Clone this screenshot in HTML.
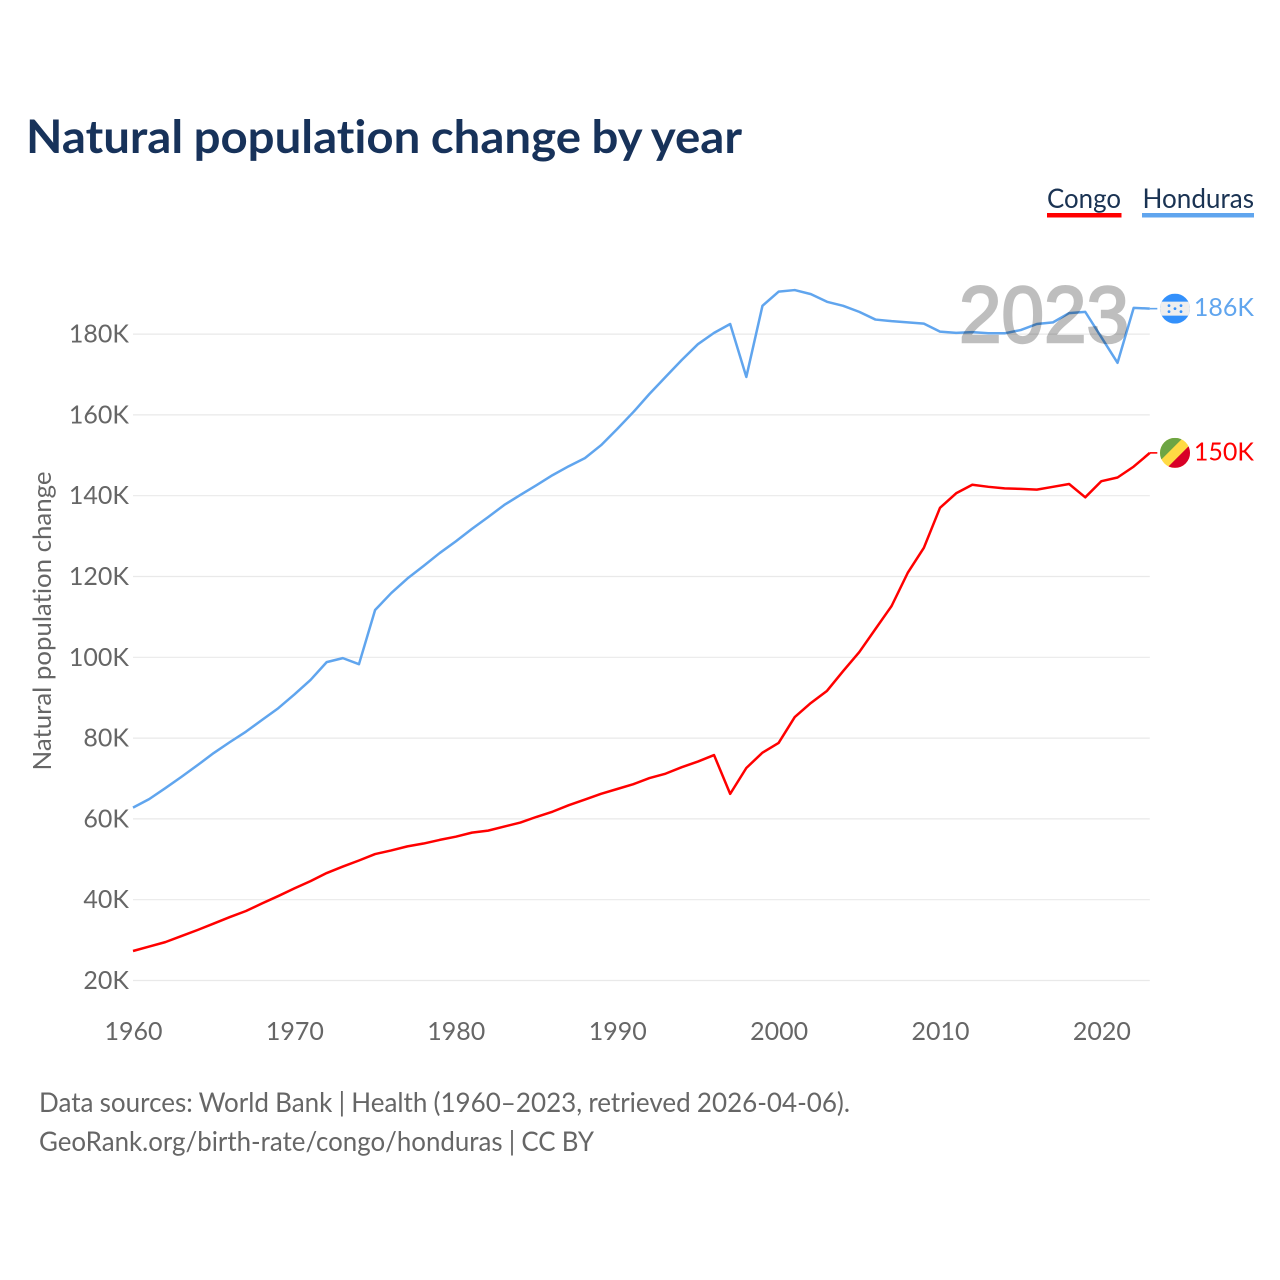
<!DOCTYPE html>
<html lang="en">
<head>
<meta charset="utf-8">
<title>Natural population change by year</title>
<style>
html,body{margin:0;padding:0;background:#fff;width:1280px;height:1280px;overflow:hidden}
svg{display:block}
text{font-family:"Lato","Carlito","Liberation Sans",sans-serif;font-variant-ligatures:none}
</style>
</head>
<body>
<svg id="chart" width="1280" height="1280" viewBox="0 0 1280 1280" xmlns="http://www.w3.org/2000/svg">
  <defs>
    <clipPath id="flag-clip-honduras"><circle cx="0" cy="0" r="15"/></clipPath>
    <clipPath id="flag-clip-congo"><circle cx="0" cy="0" r="15"/></clipPath>
  </defs>
  <text x="26" y="153" font-size="46" font-weight="700" fill="#17325a" textLength="716" lengthAdjust="spacingAndGlyphs" style="word-spacing:-1px">Natural population change by year</text>

  <g>
    <text x="1047" y="208" font-size="27" fill="#1a3353" textLength="74" lengthAdjust="spacingAndGlyphs">Congo</text>
    <rect x="1047" y="213" width="74.5" height="4.5" fill="#ff0000"/>
  </g>
  <g>
    <text x="1142.5" y="208" font-size="27" fill="#1a3353" textLength="111.5" lengthAdjust="spacingAndGlyphs">Honduras</text>
    <rect x="1142" y="213" width="112" height="4.5" fill="#60a5ee"/>
  </g>

  <text transform="translate(51,621) rotate(-90)" text-anchor="middle" font-size="25" fill="#666666" textLength="299" lengthAdjust="spacingAndGlyphs">Natural population change</text>

  <g id="grid"></g>
  <g id="y-labels"></g>
  <g id="x-labels"></g>
  <g id="series"></g>

  <text x="1129" y="342" text-anchor="end" font-size="80" font-weight="400" fill="#000000" stroke="#000000" stroke-width="2.4" opacity="0.25" style='font-family:"Liberation Sans",sans-serif' textLength="170" lengthAdjust="spacingAndGlyphs">2023</text>

  <g id="flag-honduras">
    <g clip-path="url(#flag-clip-honduras)">
      <rect x="-15" y="-15" width="30" height="30" fill="#3390fb"/>
      <rect x="-15" y="-7" width="30" height="14" fill="#eeeeee"/>
      <g fill="#3390fb">
        <circle cx="-6" cy="-3" r="1.4"/><circle cx="6" cy="-3" r="1.4"/>
        <circle cx="0" cy="0" r="1.4"/>
        <circle cx="-6" cy="3" r="1.4"/><circle cx="6" cy="3" r="1.4"/>
      </g>
    </g>
  </g>
  <g id="flag-congo">
    <g clip-path="url(#flag-clip-congo)">
      <rect x="-15" y="-15" width="30" height="30" fill="#ffda44"/>
      <polygon points="-15,-15 8,-15 -15,8" fill="#6da544"/>
      <polygon points="15,15 -8,15 15,-8" fill="#d80027"/>
    </g>
  </g>
  <g id="end-labels"></g>

  <text x="39" y="1112" font-size="27" fill="#666666" textLength="811" lengthAdjust="spacingAndGlyphs" style="word-spacing:-0.5px">Data sources: World Bank | Health (1960–2023, retrieved 2026-04-06).</text>
  <text x="39" y="1151" font-size="27" fill="#666666" textLength="555" lengthAdjust="spacingAndGlyphs" style="word-spacing:-0.5px">GeoRank.org/birth-rate/congo/honduras | CC BY</text>
</svg>
<script>
const years = [1960,1961,1962,1963,1964,1965,1966,1967,1968,1969,1970,1971,1972,1973,1974,1975,1976,1977,1978,1979,1980,1981,1982,1983,1984,1985,1986,1987,1988,1989,1990,1991,1992,1993,1994,1995,1996,1997,1998,1999,2000,2001,2002,2003,2004,2005,2006,2007,2008,2009,2010,2011,2012,2013,2014,2015,2016,2017,2018,2019,2020,2021,2022,2023];
const hondurasValues = [62.8,64.9,67.6,70.4,73.3,76.3,79.0,81.6,84.5,87.4,90.8,94.4,98.8,99.8,98.3,111.7,115.9,119.5,122.6,125.8,128.7,131.8,134.7,137.7,140.2,142.6,145.1,147.3,149.3,152.5,156.5,160.7,165.2,169.4,173.6,177.5,180.3,182.5,169.4,187.0,190.5,190.9,189.9,188.0,187.0,185.5,183.6,183.2,182.9,182.6,180.6,180.3,180.5,180.2,180.2,181.0,182.5,182.9,185.2,185.5,179.2,172.9,186.5,186.3];
const congoValues = [27.3,28.4,29.5,31.0,32.5,34.1,35.7,37.2,39.1,40.9,42.8,44.6,46.6,48.2,49.7,51.3,52.2,53.2,53.9,54.8,55.6,56.6,57.1,58.1,59.1,60.5,61.8,63.4,64.8,66.2,67.4,68.6,70.1,71.2,72.8,74.2,75.8,66.2,72.6,76.4,78.8,85.2,88.7,91.7,96.6,101.3,107.0,112.7,120.9,127.1,137.0,140.6,142.7,142.2,141.8,141.7,141.5,142.2,142.9,139.6,143.6,144.5,147.2,150.6];
const yTicks = [20,40,60,80,100,120,140,160,180];
const xTicks = [1960,1970,1980,1990,2000,2010,2020];

const NS = 'http://www.w3.org/2000/svg';
const xScale = function (year) { return 133 + (year - 1960) * 16.14; };
const labelX = function (year) { return 133.5 + (year - 1960) * 16.14; };
const yScale = function (value) { return 980.5 - (value - 20) * 4.04; };

function make(tag, attrs, parent, text) {
  const el = document.createElementNS(NS, tag);
  Object.keys(attrs).forEach(function (k) { el.setAttribute(k, attrs[k]); });
  if (text !== undefined) el.textContent = text;
  parent.appendChild(el);
  return el;
}

const grid = document.getElementById('grid');
const yLabels = document.getElementById('y-labels');
const xLabels = document.getElementById('x-labels');
const seriesGroup = document.getElementById('series');
const endLabels = document.getElementById('end-labels');
const lastX = xScale(years[years.length - 1]);

yTicks.forEach(function (t) {
  const y = yScale(t);
  const line = make('line', {x1: 133, x2: lastX, y1: y, y2: y, stroke: '#e9e9e9', 'stroke-width': 1.2}, grid);
  
  
  const label = make('text', {x: 129, y: y + 8.5, 'text-anchor': 'end', 'font-size': 25, fill: '#666666'}, yLabels, t + 'K');
  
  
});

xTicks.forEach(function (t) {
  const label = make('text', {x: labelX(t), y: 1040, 'text-anchor': 'middle', 'font-size': 25, fill: '#666666'}, xLabels, t);
  
  
});

function drawSeries(values, color, key, flagId) {
  const pts = values.map(function (v, i) { return xScale(years[i]).toFixed(2) + ',' + yScale(v).toFixed(2); });
  const lastY = yScale(values[values.length - 1]);
  const poly = make('polyline', {points: pts.join(' '), fill: 'none', stroke: color, 'stroke-width': 2.5, 'stroke-linejoin': 'round'}, seriesGroup);
  
  
  const conn = make('line', {x1: lastX, x2: lastX + 7.5, y1: lastY, y2: lastY, stroke: color, 'stroke-width': 1.6}, seriesGroup);
  
  
  document.getElementById(flagId).setAttribute('transform', 'translate(1175,' + lastY.toFixed(2) + ')');
  const label = make('text', {x: 1254, y: lastY + 7.5, 'text-anchor': 'end', 'font-size': 25, fill: color}, endLabels, Math.floor(values[values.length - 1]) + 'K');
  
  
}

drawSeries(hondurasValues, '#60a5ee', 'honduras', 'flag-honduras');
drawSeries(congoValues, '#ff0000', 'congo', 'flag-congo');
</script>
</body>
</html>
